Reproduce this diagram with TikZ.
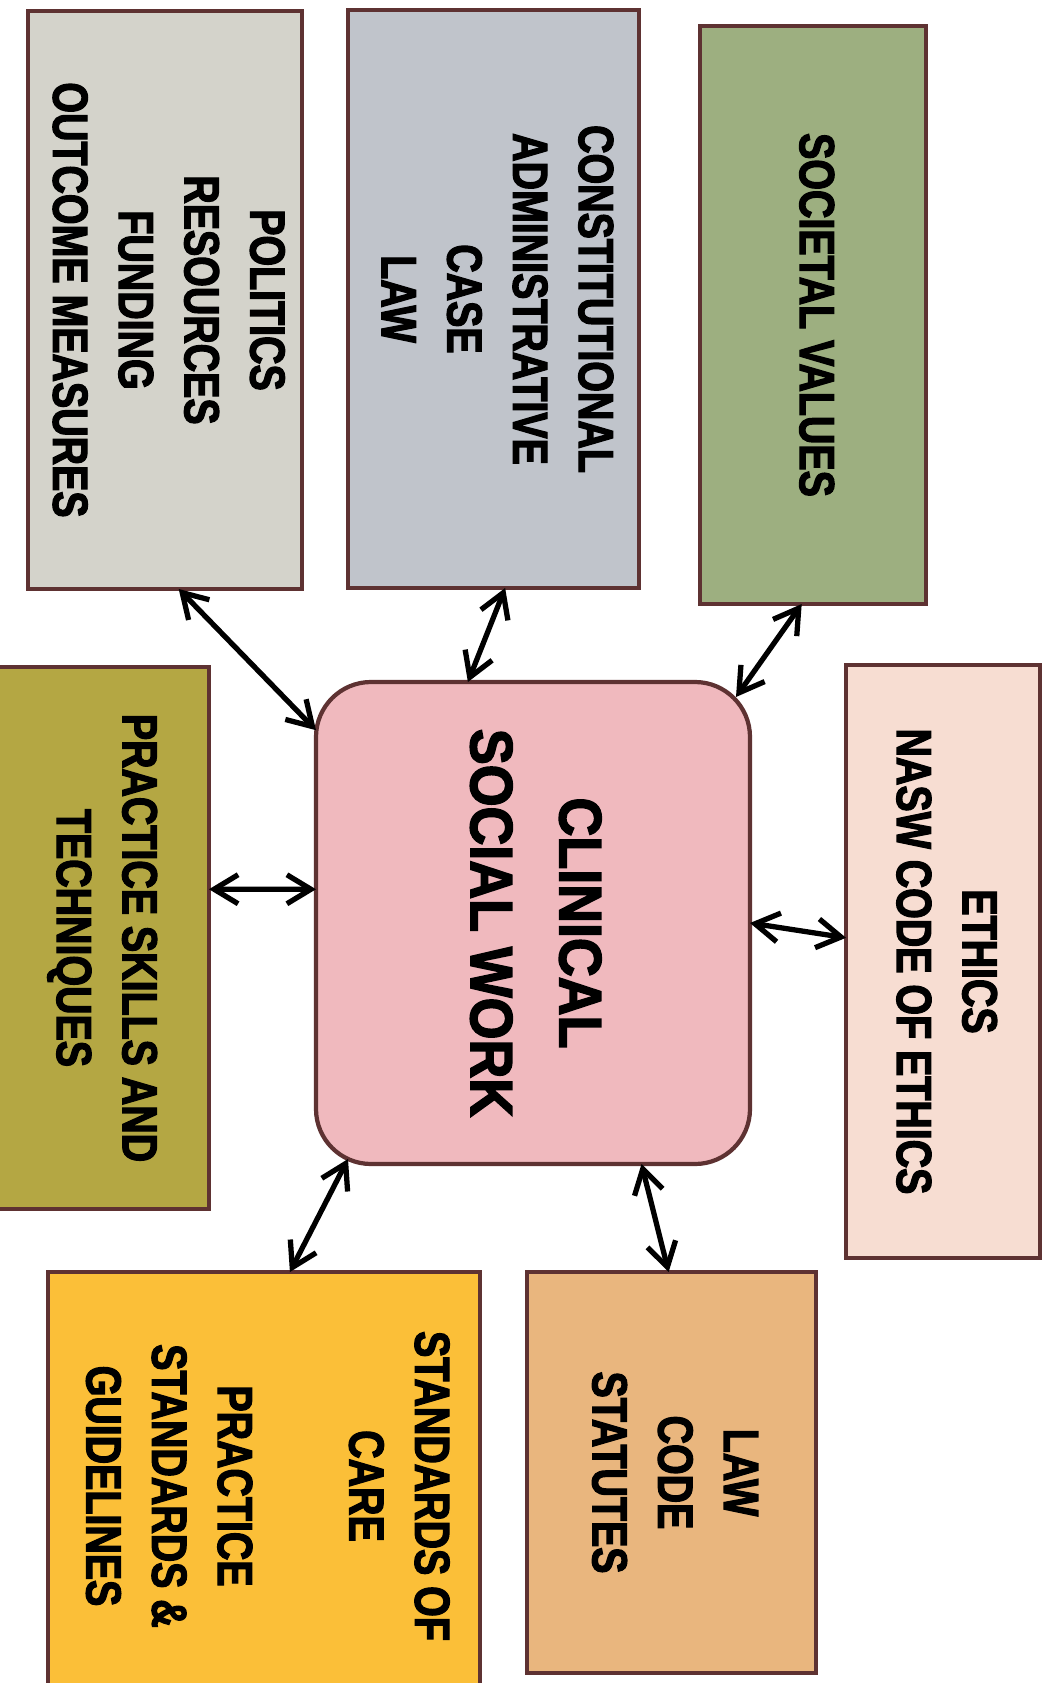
\documentclass[tikz,border=0pt]{standalone}
\usepackage{fontspec}
\usepackage{graphicx}
\usetikzlibrary{arrows.meta,calc}
\newfontfamily\boxfont[FakeStretch=0.8,FakeBold=2.5]{Liberation Sans}
\newfontfamily\hubfont[FakeStretch=0.9,FakeBold=2.5]{Liberation Sans}
\definecolor{edge}{HTML}{5E3232}
\definecolor{polfill}{HTML}{D4D3CB}
\definecolor{confill}{HTML}{C0C4CB}
\definecolor{socfill}{HTML}{9DAF80}
\definecolor{pracfill}{HTML}{B4A743}
\definecolor{hubfill}{HTML}{F0B9BE}
\definecolor{ethfill}{HTML}{F7DDD2}
\definecolor{stdfill}{HTML}{FBBF38}
\definecolor{lawfill}{HTML}{E9B67E}
\newcommand{\vstack}[1]{\rotatebox{-90}{\begin{tabular}{@{}c@{}}#1\end{tabular}}}

\begin{document}
\begin{tikzpicture}[
    area/.style={rectangle, draw=edge, line width=1.2pt, inner sep=0pt, outer sep=0pt,
                 font=\boxfont\bfseries\fontsize{14}{18.7}\selectfont},
    hub/.style={area, rounded corners=5.5mm,
                font=\hubfont\bfseries\fontsize{17}{25.3}\selectfont},
    link/.style={{Straight Barb[length=2.4mm,width=2.9mm]}-{Straight Barb[length=2.4mm,width=2.9mm]},
                 line width=1.5pt},
]
\useasboundingbox (0,0) rectangle (10.49,-16.83);

\node[hub, fill=hubfill, minimum width=4.34cm, minimum height=4.82cm] (csw) at (5.33,-9.23)
    {\vstack{CLINICAL\\SOCIAL WORK}};

\node[area, fill=polfill, minimum width=2.74cm, minimum height=5.78cm] (pol) at (1.65,-3.00)
    {\vstack{POLITICS\\RESOURCES\\FUNDING\\OUTCOME MEASURES}};
\node[area, fill=confill, minimum width=2.91cm, minimum height=5.78cm] (con) at (4.935,-2.99)
    {\vstack{CONSTITUTIONAL\\ADMINISTRATIVE\\CASE\\LAW}};
\node[area, fill=socfill, minimum width=2.26cm, minimum height=5.78cm] (soc) at (8.13,-3.15)
    {\vstack{SOCIETAL VALUES}};
\node[area, fill=pracfill, minimum width=2.12cm, minimum height=5.42cm] (prac) at (1.03,-9.38)
    {\vstack{PRACTICE SKILLS AND\\TECHNIQUES}};
\node[area, fill=ethfill, minimum width=1.94cm, minimum height=5.93cm] (eth) at (9.43,-9.615)
    {\vstack{ETHICS\\NASW CODE OF ETHICS}};
\node[area, fill=stdfill, minimum width=4.32cm, minimum height=4.28cm] (std) at (2.64,-14.86)
    {\vstack{STANDARDS OF\\CARE\\ \\PRACTICE\\STANDARDS \&\\GUIDELINES}};
\node[area, fill=lawfill, minimum width=2.89cm, minimum height=4.01cm] (law) at (6.715,-14.725)
    {\vstack{LAW\\CODE\\STATUTES}};

% links to the hub
\draw[link] ($(pol.south west)!.55!(pol.south east)$) -- ($(csw.north west)!.1!(csw.south west)$);
\draw[link] ($(con.south west)!.54!(con.south east)$) -- ($(csw.north west)!.35!(csw.north east)$);
\draw[link] ($(soc.south west)!.45!(soc.south east)$) -- ([shift={(-0.14,-0.15)}]csw.north east);
\draw[link] ($(prac.north east)!.41!(prac.south east)$) -- ($(csw.north west)!.43!(csw.south west)$);
\draw[link] ($(eth.north west)!.46!(eth.south west)$) -- (csw.east);
\draw[link] ($(std.north west)!.56!(std.north east)$) -- ([shift={(0.32,0.05)}]csw.south west);
\draw[link] ($(law.north west)!.49!(law.north east)$) -- ($(csw.south west)!.75!(csw.south east)$);

\end{tikzpicture}
\end{document}
